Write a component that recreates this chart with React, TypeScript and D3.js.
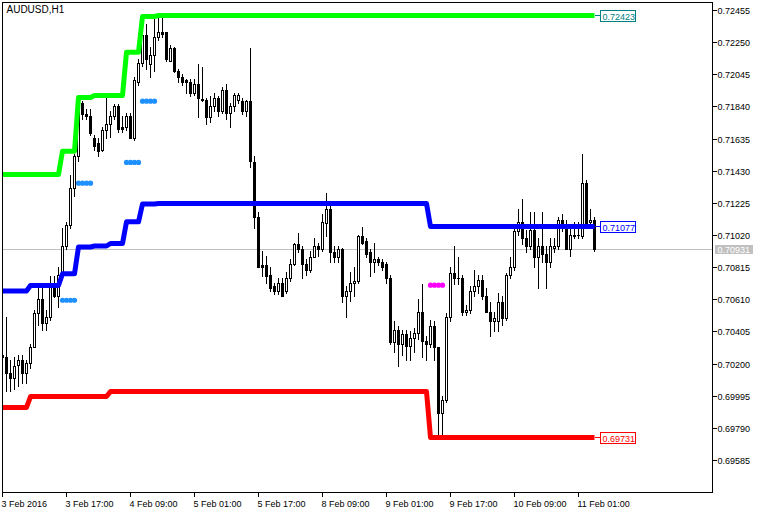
import React, { useEffect } from 'react';
import * as d3 from 'd3';

const chartTitle = 'AUDUSD,H1';

const opens = [
  0.70255, 0.70248, 0.70140, 0.70114, 0.70191, 0.70229, 0.70140, 0.70204, 0.70312, 0.70523,
  0.70612, 0.70465, 0.70503, 0.70688, 0.70637, 0.70771, 0.70950, 0.71090, 0.71326, 0.71524,
  0.71868, 0.71798, 0.71785, 0.71645, 0.71613, 0.71568, 0.71696, 0.71728, 0.71779, 0.71843,
  0.71715, 0.71709, 0.71779, 0.71645, 0.72002, 0.72123, 0.72296, 0.72111, 0.72174, 0.72289,
  0.72321, 0.72315, 0.72136, 0.72213, 0.72066, 0.72028, 0.72009, 0.71996, 0.71932, 0.71989,
  0.71887, 0.71887, 0.71773, 0.71843, 0.71900, 0.71817, 0.71951, 0.71804, 0.71849, 0.71887,
  0.71881, 0.71811, 0.71881, 0.71486, 0.71135, 0.70829, 0.70829, 0.70765, 0.70695, 0.70663,
  0.70720, 0.70669, 0.70746, 0.70841, 0.70963, 0.70931, 0.70841, 0.70797, 0.70886, 0.70950,
  0.70931, 0.71097, 0.71186, 0.70912, 0.70886, 0.70931, 0.70631, 0.70663, 0.70714, 0.70727,
  0.71014, 0.70982, 0.70912, 0.70848, 0.70873, 0.70854, 0.70841, 0.70746, 0.70338, 0.70420,
  0.70325, 0.70389, 0.70318, 0.70369, 0.70395, 0.70529, 0.70344, 0.70325, 0.70440, 0.70306,
  0.69891, 0.69974, 0.70503, 0.70778, 0.70752, 0.70746, 0.70535, 0.70548, 0.70663, 0.70695,
  0.70733, 0.70631, 0.70535, 0.70472, 0.70472, 0.70599, 0.70497, 0.70765, 0.70816, 0.71046,
  0.71109, 0.71001, 0.70950, 0.71058, 0.70886, 0.70956, 0.70905, 0.70854, 0.70943, 0.70950,
  0.71122, 0.71084, 0.70937, 0.71014, 0.71020, 0.71014, 0.71358, 0.71103, 0.71122,
];

const highs = [
  0.70280, 0.70503, 0.70229, 0.70248, 0.70261, 0.70255, 0.70229, 0.70325, 0.70542, 0.70682,
  0.70688, 0.70542, 0.70759, 0.70759, 0.70816, 0.71071, 0.71103, 0.71409, 0.71537, 0.71868,
  0.71881, 0.71824, 0.71824, 0.71658, 0.71645, 0.71709, 0.71894, 0.71811, 0.71856, 0.71856,
  0.71779, 0.71804, 0.71804, 0.72028, 0.72143, 0.72347, 0.72366, 0.72225, 0.72410, 0.72417,
  0.72423, 0.72321, 0.72238, 0.72225, 0.72079, 0.72047, 0.72021, 0.72015, 0.72015, 0.72111,
  0.72092, 0.71900, 0.71907, 0.71932, 0.71907, 0.71964, 0.71989, 0.71868, 0.71932, 0.71932,
  0.71894, 0.71887, 0.72213, 0.71524, 0.71173, 0.70924, 0.70892, 0.70822, 0.70720, 0.70752,
  0.70752, 0.70790, 0.70873, 0.70975, 0.71033, 0.70950, 0.70867, 0.70918, 0.71001, 0.70969,
  0.71160, 0.71288, 0.71218, 0.70950, 0.70950, 0.70943, 0.70695, 0.70790, 0.70822, 0.71026,
  0.71077, 0.71001, 0.70931, 0.70969, 0.70886, 0.70867, 0.70848, 0.70765, 0.70472, 0.70440,
  0.70420, 0.70420, 0.70408, 0.70433, 0.70612, 0.70708, 0.70376, 0.70484, 0.70472, 0.70312,
  0.69999, 0.70523, 0.70816, 0.70950, 0.70880, 0.70765, 0.70574, 0.70695, 0.70797, 0.70771,
  0.70771, 0.70682, 0.70593, 0.70535, 0.70656, 0.70637, 0.70784, 0.70880, 0.71071, 0.71186,
  0.71250, 0.71058, 0.71173, 0.71173, 0.71007, 0.71173, 0.70950, 0.71007, 0.71007, 0.71141,
  0.71154, 0.71122, 0.71071, 0.71103, 0.71109, 0.71537, 0.71377, 0.71186, 0.71135,
];

const lows = [
  0.70216, 0.70031, 0.70031, 0.70038, 0.70063, 0.70082, 0.70082, 0.70178, 0.70306, 0.70452,
  0.70420, 0.70420, 0.70484, 0.70625, 0.70567, 0.70765, 0.70931, 0.71071, 0.71269, 0.71492,
  0.71760, 0.71760, 0.71664, 0.71568, 0.71530, 0.71556, 0.71645, 0.71651, 0.71760, 0.71677,
  0.71683, 0.71690, 0.71639, 0.71632, 0.71983, 0.72104, 0.72079, 0.72028, 0.72066, 0.72270,
  0.72283, 0.72130, 0.72130, 0.72060, 0.71996, 0.71977, 0.71932, 0.71907, 0.71919, 0.71773,
  0.71881, 0.71728, 0.71741, 0.71811, 0.71779, 0.71804, 0.71766, 0.71709, 0.71817, 0.71868,
  0.71792, 0.71779, 0.71460, 0.71071, 0.70816, 0.70759, 0.70720, 0.70663, 0.70644, 0.70644,
  0.70631, 0.70656, 0.70727, 0.70829, 0.70912, 0.70746, 0.70771, 0.70790, 0.70880, 0.70892,
  0.70918, 0.71014, 0.70848, 0.70854, 0.70848, 0.70593, 0.70503, 0.70605, 0.70631, 0.70720,
  0.70963, 0.70886, 0.70759, 0.70790, 0.70835, 0.70803, 0.70714, 0.70325, 0.70280, 0.70185,
  0.70261, 0.70229, 0.70229, 0.70280, 0.70357, 0.70248, 0.70229, 0.70306, 0.70229, 0.69731,
  0.69738, 0.69961, 0.70472, 0.70708, 0.70708, 0.70510, 0.70510, 0.70523, 0.70631, 0.70656,
  0.70612, 0.70529, 0.70376, 0.70408, 0.70408, 0.70452, 0.70484, 0.70752, 0.70803, 0.71026,
  0.70963, 0.70912, 0.70931, 0.70822, 0.70682, 0.70854, 0.70688, 0.70816, 0.70912, 0.70937,
  0.71046, 0.70931, 0.70892, 0.71007, 0.71007, 0.71007, 0.71071, 0.71097, 0.70918,
];

const closes = [
  0.70248, 0.70146, 0.70114, 0.70185, 0.70229, 0.70140, 0.70204, 0.70312, 0.70523, 0.70612,
  0.70465, 0.70503, 0.70708, 0.70637, 0.70771, 0.70950, 0.71084, 0.71326, 0.71524, 0.71836,
  0.71798, 0.71779, 0.71671, 0.71588, 0.71562, 0.71696, 0.71734, 0.71779, 0.71843, 0.71702,
  0.71702, 0.71779, 0.71645, 0.72009, 0.72123, 0.72296, 0.72143, 0.72174, 0.72289, 0.72321,
  0.72308, 0.72143, 0.72213, 0.72066, 0.72028, 0.71996, 0.71996, 0.71932, 0.71989, 0.71894,
  0.71889, 0.71773, 0.71843, 0.71900, 0.71817, 0.71951, 0.71804, 0.71849, 0.71919, 0.71919,
  0.71811, 0.71875, 0.71492, 0.71135, 0.70822, 0.70822, 0.70759, 0.70688, 0.70663, 0.70720,
  0.70637, 0.70752, 0.70841, 0.70963, 0.70931, 0.70841, 0.70797, 0.70886, 0.70950, 0.70937,
  0.71103, 0.71186, 0.70912, 0.70886, 0.70931, 0.70631, 0.70663, 0.70720, 0.70727, 0.71014,
  0.70975, 0.70905, 0.70848, 0.70873, 0.70848, 0.70822, 0.70746, 0.70338, 0.70420, 0.70331,
  0.70389, 0.70318, 0.70369, 0.70395, 0.70529, 0.70344, 0.70325, 0.70440, 0.70306, 0.69891,
  0.69974, 0.70503, 0.70778, 0.70746, 0.70746, 0.70535, 0.70548, 0.70663, 0.70695, 0.70733,
  0.70631, 0.70535, 0.70472, 0.70491, 0.70599, 0.70497, 0.70765, 0.70822, 0.71046, 0.71109,
  0.71001, 0.70950, 0.71058, 0.70886, 0.70956, 0.70905, 0.70848, 0.70950, 0.70950, 0.71122,
  0.71084, 0.70937, 0.71020, 0.71020, 0.71026, 0.71358, 0.71090, 0.71122, 0.70931,
];

// channel levels as runs: [fromBar, toBar, price]
const upperRuns: [number, number, number][] = [
  [0, 14, 0.71409], [15, 18, 0.71558], [19, 22, 0.71900], [23, 30, 0.71913],
  [31, 34, 0.72189], [35, 38, 0.72417], [39, 148, 0.72423],
];
const middleRuns: [number, number, number][] = [
  [0, 6, 0.70666], [7, 14, 0.70701], [15, 18, 0.70776], [19, 22, 0.70947],
  [23, 26, 0.70953], [27, 30, 0.70969], [31, 34, 0.71107], [35, 38, 0.71221],
  [39, 106, 0.71224], [107, 148, 0.71077],
];
const lowerRuns: [number, number, number][] = [
  [0, 6, 0.69923], [7, 26, 0.69993], [27, 106, 0.70025], [107, 148, 0.69731],
];
const blueDotRuns: [number, number, number][] = [
  [15, 18, 0.70607], [19, 22, 0.71354], [31, 34, 0.71486], [35, 38, 0.71877],
];
const magentaDotRuns: [number, number, number][] = [[107, 110, 0.70703]];

const yTicks = [
  0.72455, 0.7225, 0.72045, 0.7184, 0.71635, 0.7143, 0.71225, 0.7102,
  0.70815, 0.7061, 0.70405, 0.702, 0.69995, 0.6979, 0.69585,
];
const xTickBars = [0, 16, 32, 48, 64, 80, 96, 112, 128, 144];
const xTickLabels = [
  '3 Feb 2016', '3 Feb 17:00', '4 Feb 09:00', '5 Feb 01:00', '5 Feb 17:00',
  '8 Feb 09:00', '9 Feb 01:00', '9 Feb 17:00', '10 Feb 09:00', '11 Feb 01:00',
];
const lastPrice = 0.70931;

function expandRuns(runs: [number, number, number][]): number[] {
  const out: number[] = [];
  runs.forEach(([a, b, v]) => {
    for (let i = a; i <= b; i++) out[i] = v;
  });
  return out;
}

const FONT = '"Liberation Sans", Arial, sans-serif';

export default function App() {
  useEffect(() => {
    document.body.style.margin = '0';
  }, []);

  const W = 764;
  const H = 513;
  const x = d3.scaleLinear().domain([0, 177.5]).range([2.5, 712.5]);
  const y = d3.scaleLinear().domain([0.69585, 0.72455]).range([460.5, 10.5]);
  const py = (v: number) => Math.round(y(v) - 0.5) + 0.5;
  const fmt = d3.format('.5f');

  const upper = expandRuns(upperRuns);
  const middle = expandRuns(middleRuns);
  const lower = expandRuns(lowerRuns);
  const line = d3
    .line<number>()
    .x((_, i) => x(i))
    .y((v) => y(v));

  const lastBar = opens.length - 1;

  const dots = (runs: [number, number, number][], color: string, key: string) =>
    runs.flatMap(([a, b, v]) =>
      d3.range(a, b + 1).map((i) => (
        <circle key={`${key}-${i}`} cx={x(i)} cy={y(v)} r={2.6} fill={color} />
      ))
    );

  const labels: { v: number; color: string; lineColor: string }[] = [
    { v: upper[lastBar], color: '#008080', lineColor: '#008080' },
    { v: middle[lastBar], color: '#0000FF', lineColor: '#0000FF' },
    { v: lower[lastBar], color: '#FF0000', lineColor: '#FF0000' },
  ];

  return (
    <svg
      width={W}
      height={H}
      style={{ position: 'absolute', left: 0, top: 0, background: '#fff', fontFamily: FONT }}
    >
      <defs>
        <clipPath id="plotClip">
          <rect x={3} y={3} width={709} height={489} />
        </clipPath>
      </defs>
      <rect x={0} y={0} width={W} height={H} fill="#fff" />

      {/* current price line */}
      <line x1={3} x2={712} y1={py(lastPrice)} y2={py(lastPrice)} stroke="#C0C0C0" strokeWidth={1} />

      {/* candles */}
      <g clipPath="url(#plotClip)" shapeRendering="crispEdges">
        {opens.map((o, i) => {
          const c = closes[i];
          const cx = Math.round(x(i) - 0.5) + 0.5;
          const yTop = Math.round(y(Math.max(o, c)));
          const yBot = Math.round(y(Math.min(o, c)));
          const bull = c >= o;
          return (
            <g key={i}>
              <line
                x1={cx}
                x2={cx}
                y1={Math.round(y(highs[i]))}
                y2={Math.round(y(lows[i])) + 1}
                stroke="#000"
                strokeWidth={1}
              />
              {bull ? (
                yBot - yTop < 1 ? (
                  <rect x={cx - 1.5} y={yTop} width={3} height={1} fill="#000" />
                ) : (
                  <rect x={cx - 1} y={yTop + 0.5} width={2} height={yBot - yTop} fill="#fff" stroke="#000" strokeWidth={1} />
                )
              ) : (
                <rect x={cx - 1.5} y={yTop} width={3} height={Math.max(1, yBot - yTop + 1)} fill="#000" />
              )}
            </g>
          );
        })}
      </g>

      {/* channel lines */}
      <g clipPath="url(#plotClip)" fill="none" strokeWidth={5} strokeLinejoin="round" strokeLinecap="butt">
        <path d={line(upper) || ''} stroke="#00FF00" />
        <path d={line(middle) || ''} stroke="#0000FF" />
        <path d={line(lower) || ''} stroke="#FF0000" />
      </g>

      {/* signal dots */}
      <g>
        {dots(blueDotRuns, '#1E90FF', 'b')}
        {dots(magentaDotRuns, '#FF00FF', 'm')}
      </g>

      {/* price labels at line ends */}
      {labels.map(({ v, color, lineColor }, k) => {
        const ly = Math.round(y(v));
        return (
          <g key={k} shapeRendering="crispEdges">
            <line x1={x(lastBar)} x2={600.5} y1={ly - 0.5} y2={ly - 0.5} stroke={lineColor} strokeWidth={1} />
            <rect x={600.5} y={ly - 5.5} width={35} height={11} fill="#fff" stroke={color} strokeWidth={1} />
            <text x={602.5} y={ly + 3.5} fontSize={9} fill={color} shapeRendering="auto">
              {fmt(v)}
            </text>
          </g>
        );
      })}

      {/* frame */}
      <rect x={2.5} y={2.5} width={710} height={490} fill="none" stroke="#000" strokeWidth={1} shapeRendering="crispEdges" />

      {/* y axis */}
      <g shapeRendering="crispEdges">
        {yTicks.map((t) => (
          <g key={t}>
            <line x1={713} x2={717} y1={py(t)} y2={py(t)} stroke="#000" strokeWidth={1} />
            <text x={717.5} y={py(t) + 3.5} fontSize={9} fill="#000" shapeRendering="auto">
              {fmt(t)}
            </text>
          </g>
        ))}
        <rect x={715} y={py(lastPrice) - 4.5} width={38} height={9} fill="#C0C0C0" />
        <text x={717.5} y={py(lastPrice) + 3.5} fontSize={9} fill="#fff" shapeRendering="auto">
          {fmt(lastPrice)}
        </text>
      </g>

      {/* x axis */}
      <g shapeRendering="crispEdges">
        {xTickBars.map((b, k) => {
          const tx = Math.round(x(b) - 0.5) + 0.5;
          return (
            <g key={b}>
              <line x1={tx} x2={tx} y1={493} y2={497} stroke="#000" strokeWidth={1} />
              <text x={tx - 1} y={507} fontSize={9} fill="#000" shapeRendering="auto">
                {xTickLabels[k]}
              </text>
            </g>
          );
        })}
      </g>

      {/* title */}
      <text x={6.5} y={13} fontSize={10} fill="#000">
        {chartTitle}
      </text>
    </svg>
  );
}
